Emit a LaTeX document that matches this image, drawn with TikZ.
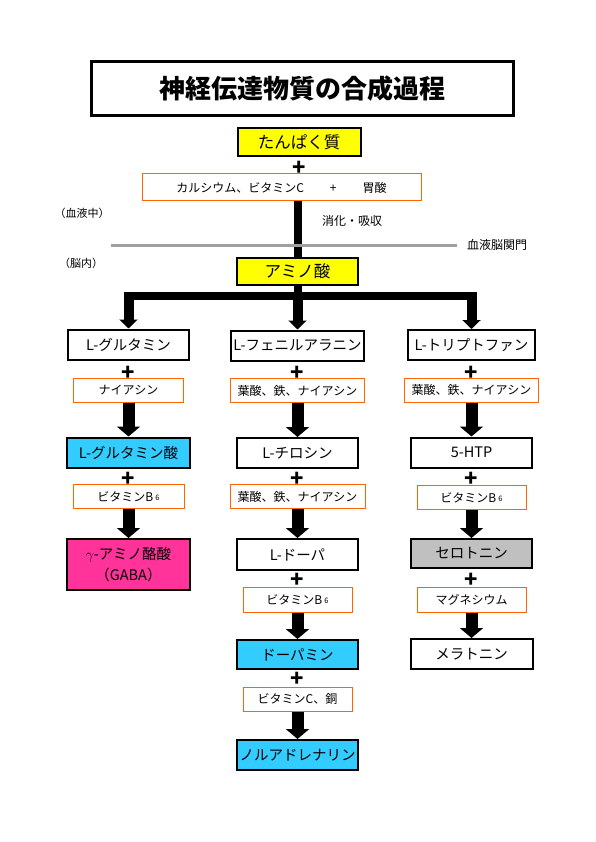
\documentclass[tikz,border=0pt]{standalone}
\usepackage{fontspec}
\setmainfont{Noto Sans CJK JP}
\usetikzlibrary{arrows.meta, positioning}
\definecolor{aminocol}{RGB}{255,255,0}
\definecolor{neurocol}{RGB}{51,204,255}
\definecolor{gabacol}{RGB}{255,51,153}
\definecolor{serocol}{RGB}{192,192,192}
\definecolor{auxcol}{RGB}{255,102,0}
\definecolor{barriercol}{RGB}{160,160,160}

\begin{document}
\begin{tikzpicture}[
			x=1pt,
			y=-1pt,
			box/.style={
				draw=black,
				line width=2pt,
				minimum width=121pt,
				minimum height=30pt,
				inner sep=0pt,
				font=\fontsize{14.5}{16}\selectfont
			},
			aux/.style={
				draw=auxcol,
				line width=1pt,
				fill=white,
				minimum width=110pt,
				minimum height=24pt,
				inner sep=0pt,
				font=\fontsize{12}{14}\selectfont
			},
			plus/.style={
				inner sep=0pt,
				font=\bfseries\fontsize{22}{22}\selectfont
			},
			note/.style={
				inner sep=0pt,
				font=\fontsize{12}{14}\selectfont
			},
			flow/.style={
				line width=12pt,
				-{Triangle[width=23pt,length=10pt]}
			},
			branch/.style={
				line width=10pt,
				-{Triangle[width=18pt,length=9pt]}
			}
			]
			\useasboundingbox (0,0) rectangle (595,842);
			
			% Title
			\node[draw, line width=3.5pt, minimum width=422pt, minimum height=54pt,
				font=\bfseries\fontsize{26}{28}\selectfont] (title) at (302.5,88.5) {神経伝達物質の合成過程};
			
			% Digestion
			\node[box, fill=aminocol, minimum width=123pt, minimum height=28pt,
				font=\fontsize{16.5}{18}\selectfont] (protein) at (299,142) {たんぱく質};
			\node[plus] (plus0) at (299,168) {+};
			\node[aux, minimum width=279pt, minimum height=27pt] (mineral) at (281.5,187.5)
				{カルシウム、ビタミンC\hspace{26pt}+\hspace{26pt}胃酸};
			\node[box, fill=aminocol, minimum width=121pt, minimum height=27pt,
				font=\fontsize{16.5}{18}\selectfont] (amino) at (297.5,271) {アミノ酸};
			\draw[line width=8pt] (mineral.south -| amino.north) -- (amino.north);
			
			% Blood-brain barrier
			\node[note, font=\fontsize{11}{13}\selectfont] (blood) at (82,213) {（血液中）};
			\node[note] (absorb) at (352,221) {消化・吸収};
			\coordinate (bbbL) at (111,245);
			\coordinate (bbbR) at (457,245);
			\draw[barriercol, line width=3pt] (bbbL) -- (bbbR);
			\node[note] (bbb) at (497,245) {血液脳関門};
			\node[note, font=\fontsize{11}{13}\selectfont] (brain) at (81,263) {（脳内）};
			
			% Branching bar
			\coordinate (barL) at (123.5,296);
			\coordinate (barR) at (476.5,296);
			\draw[line width=8pt] (amino.south) -- (amino.south |- barL);
			\draw[line width=8pt] (barL) -- (barR);
			
			% Row 1
			\node[box] (glut) at (128.5,344.5) {L-グルタミン};
			\node[box, minimum width=133pt] (phe) at (297.5,345.5) {L-フェニルアラニン};
			\node[box, minimum width=127pt] (trp) at (471.5,345) {L-トリプトファン};
			\draw[branch] (glut.north |- barL) -- (glut.north);
			\draw[branch] (phe.north |- barL) -- (phe.north);
			\draw[branch] (trp.north |- barL) -- (trp.north);
			
			\node[plus] (plus1) at (128.5,373) {+};
			\node[plus] (plus2) at (297.5,373) {+};
			\node[plus] (plus3) at (471.5,373) {+};
			\node[aux] (niacin) at (128.5,390) {ナイアシン};
			\node[aux, minimum width=134pt] (pheaux) at (297.5,390.5) {葉酸、鉄、ナイアシン};
			\node[aux, minimum width=134pt] (trpaux) at (471.5,390) {葉酸、鉄、ナイアシン};
			
			% Row 2
			\node[box, fill=neurocol, minimum width=123pt] (glua) at (128.5,452.5) {L-グルタミン酸};
			\node[box] (tyr) at (297.5,453) {L-チロシン};
			\node[box] (htp) at (471.5,452.5) {5-HTP};
			\draw[flow] (niacin) -- (glua);
			\draw[flow] (pheaux) -- (tyr);
			\draw[flow] (trpaux) -- (htp);
			
			\node[plus] (plus4) at (128.5,479) {+};
			\node[plus] (plus5) at (297.5,479) {+};
			\node[plus] (plus6) at (471.5,479) {+};
			\node[aux, minimum width=111pt] (b6a) at (128.5,496.5) {ビタミンB\,\raisebox{1pt}{\fontsize{7.5}{8}\selectfont 6}};
			\node[aux, minimum width=135pt] (tyraux) at (297.5,496.5) {葉酸、鉄、ナイアシン};
			\node[aux, minimum width=109pt] (b6b) at (471.5,497.5) {ビタミンB\,\raisebox{1pt}{\fontsize{7.5}{8}\selectfont 6}};
			
			% Row 3
			\node[box, fill=gabacol, minimum width=123pt, minimum height=51pt, align=center,
				font=\fontsize{14.5}{21}\selectfont] (gaba) at (128.5,564.5) {$\gamma$-アミノ酪酸\\（GABA）};
			\node[box, minimum height=31pt] (dopa) at (297.5,554.5) {L-ドーパ};
			\node[box, fill=serocol, minimum height=29pt] (sero) at (471.5,553.5) {セロトニン};
			\draw[flow] (b6a) -- (gaba);
			\draw[flow] (tyraux) -- (dopa);
			\draw[flow] (b6b) -- (sero);
			
			\node[plus] (plus7) at (297.5,580) {+};
			\node[plus] (plus8) at (471.5,580) {+};
			\node[aux, minimum width=109pt, minimum height=25pt] (b6c) at (297.5,599.5) {ビタミンB\,\raisebox{1pt}{\fontsize{7.5}{8}\selectfont 6}};
			\node[aux, minimum width=109pt, minimum height=25pt] (mg) at (471.5,599.5) {マグネシウム};
			
			% Row 4
			\node[box, fill=neurocol, minimum height=29pt] (dopamine) at (297.5,654.5) {ドーパミン};
			\node[box, minimum width=122pt] (mela) at (471.5,654) {メラトニン};
			\draw[flow] (b6c) -- (dopamine);
			\draw[flow] (mg) -- (mela);
			
			\node[plus] (plus9) at (297.5,679) {+};
			\node[aux, minimum width=109pt] (vitc) at (297.5,699) {ビタミンC、銅};
			
			% Row 5
			\node[box, fill=neurocol] (noradr) at (297.5,755) {ノルアドレナリン};
			\draw[flow] (vitc) -- (noradr);
		\end{tikzpicture}
\end{document}
